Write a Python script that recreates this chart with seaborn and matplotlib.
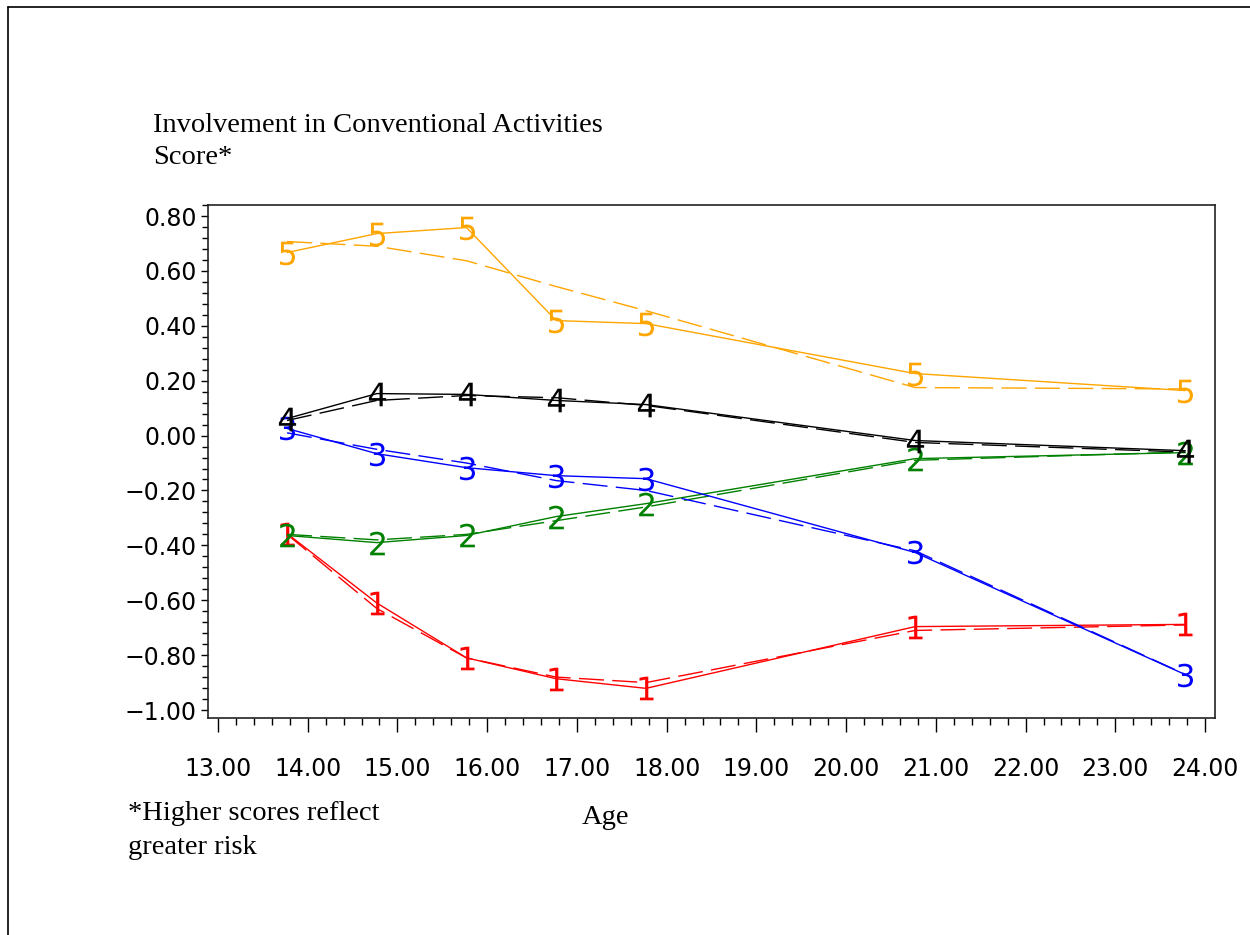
import matplotlib
matplotlib.use("Agg")
import matplotlib.pyplot as plt
from matplotlib.ticker import MultipleLocator, FuncFormatter
from matplotlib.lines import Line2D
import seaborn as sns
import pandas as pd

sns.set_theme(style="white")
plt.rcParams["font.family"] = ["Liberation Serif", "DejaVu Serif"]

# Ages at which each trajectory group was measured
ages = [13.77, 14.77, 15.77, 16.77, 17.77, 20.77, 23.78]

# Observed group means (solid lines)
obs_1 = [-0.357, -0.610, -0.810, -0.886, -0.921, -0.696, -0.688]
obs_2 = [-0.364, -0.390, -0.364, -0.295, -0.248, -0.084, -0.062]
obs_3 = [0.026, -0.066, -0.117, -0.146, -0.157, -0.426, -0.871]
obs_4 = [0.062, 0.153, 0.150, 0.128, 0.113, -0.018, -0.055]
obs_5 = [0.667, 0.736, 0.758, 0.419, 0.408, 0.226, 0.164]

# Model-predicted group means (dashed lines)
fit_1 = [-0.360, -0.630, -0.810, -0.880, -0.900, -0.710, -0.690]
fit_2 = [-0.360, -0.380, -0.360, -0.310, -0.260, -0.090, -0.060]
fit_3 = [0.010, -0.050, -0.100, -0.164, -0.200, -0.420, -0.870]
fit_4 = [0.055, 0.128, 0.146, 0.138, 0.110, -0.025, -0.060]
fit_5 = [0.707, 0.690, 0.637, 0.543, 0.455, 0.175, 0.170]

groups = ["1", "2", "3", "4", "5"]
colors = {"1": "#ff0000", "2": "#008000", "3": "#0000ff", "4": "#000000", "5": "#ffa500"}
observed = {"1": obs_1, "2": obs_2, "3": obs_3, "4": obs_4, "5": obs_5}
fitted = {"1": fit_1, "2": fit_2, "3": fit_3, "4": fit_4, "5": fit_5}

fig = plt.figure(figsize=(12.5, 9.35), dpi=100)
ax = fig.add_axes([0.1664, 0.2321, 0.9720 - 0.1664, 0.7807 - 0.2321])

for g in groups:
    df_fit = pd.DataFrame({"age": ages, "score": fitted[g]})
    sns.lineplot(data=df_fit, x="age", y="score", ax=ax, color=colors[g],
                 linewidth=1.0, linestyle=(0, (18, 6)), sort=False)
    df_obs = pd.DataFrame({"age": ages, "score": observed[g]})
    sns.lineplot(data=df_obs, x="age", y="score", ax=ax, color=colors[g],
                 linewidth=1.0, marker=f"$\\mathsf{{{g}}}$", markersize=17,
                 markeredgewidth=0.0, markeredgecolor=colors[g],
                 markerfacecolor=colors[g], sort=False)

ax.set_xlim(12.889, 24.111)
ax.set_ylim(-1.029, 0.840)
ax.xaxis.set_major_locator(MultipleLocator(1.0))
ax.xaxis.set_minor_locator(MultipleLocator(0.2))
ax.yaxis.set_major_locator(MultipleLocator(0.2))
ax.yaxis.set_minor_locator(MultipleLocator(0.04))

fmt = FuncFormatter(lambda v, p: f"{v:.2f}".replace("-", "\u2212"))
ax.xaxis.set_major_formatter(fmt)
ax.yaxis.set_major_formatter(fmt)

num_font = ["DejaVu Sans"]
ax.tick_params(axis="x", which="major", direction="out", length=10, width=1.0,
               color="black", pad=18, bottom=True)
ax.tick_params(axis="x", which="minor", direction="out", length=5, width=1.0,
               color="black", bottom=True)
ax.tick_params(axis="y", which="major", direction="out", length=5, width=1.0,
               color="black", pad=3, left=True)
ax.tick_params(axis="y", which="minor", direction="out", length=4, width=1.0,
               color="black", left=True)
for lab in ax.get_xticklabels() + ax.get_yticklabels():
    lab.set_family(num_font)
    lab.set_fontsize(17)
    lab.set_color("black")

for s in ax.spines.values():
    s.set_color("#222222")
    s.set_linewidth(1.2)
    s.set_visible(True)

ax.set_xlabel("")
ax.set_ylabel("")
ax.grid(False)

serif = ["Liberation Serif", "DejaVu Serif"]
fs = 20.5
fig.text(153 / 1250, 1 - 125 / 935, "Involvement in Conventional Activities",
         family=serif, fontsize=fs, va="center", ha="left", color="black")
fig.text(153 / 1250, 1 - 157 / 935, "Score*", family=serif, fontsize=fs,
         va="center", ha="left", color="black")
fig.text(128 / 1250, 1 - 814 / 935, "*Higher scores reflect", family=serif,
         fontsize=fs, va="center", ha="left", color="black")
fig.text(128 / 1250, 1 - 848 / 935, "greater risk", family=serif, fontsize=fs,
         va="center", ha="left", color="black")
fig.text(605 / 1250, 1 - 818 / 935, "Age", family=serif, fontsize=fs,
         va="center", ha="center", color="black")

# Page frame along the top and left edges
fig.add_artist(Line2D([8 / 1250, 1.0], [1 - 7 / 935, 1 - 7 / 935],
                      transform=fig.transFigure, color="black", linewidth=1.2))
fig.add_artist(Line2D([8 / 1250, 8 / 1250], [0.0, 1 - 7 / 935],
                      transform=fig.transFigure, color="black", linewidth=1.2))

fig.savefig("out.png", dpi=100, facecolor="white")
